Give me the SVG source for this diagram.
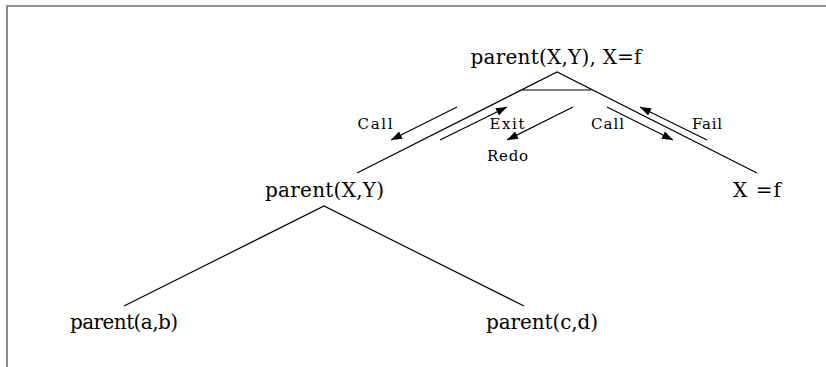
<svg xmlns="http://www.w3.org/2000/svg" width="826" height="367" viewBox="0 0 826 367">
<defs>
<style>
.big{font-family:"DejaVu Serif","Liberation Serif",serif;font-size:20px;fill:#000;text-anchor:middle}
.sm{font-family:"DejaVu Serif","Liberation Serif",serif;font-size:15px;fill:#000;text-anchor:middle}
.ln{stroke:#000;stroke-width:1.2;fill:none}
.ar{stroke:#000;stroke-width:1.2;fill:none;marker-end:url(#ah)}
</style>
<marker id="ah" markerUnits="userSpaceOnUse" markerWidth="12" markerHeight="8" refX="11" refY="4" orient="auto">
<path d="M0,0 L11,4 L0,8 z" fill="#000"/>
</marker>
</defs>
<rect width="826" height="367" fill="#fff"/>
<path d="M7,367 V6 H826" stroke="#707070" stroke-width="1.6" fill="none"/>
<g id="connectors">
<path class="ln" d="M357,173 L557,72 L757,173"/>
<path class="ln" d="M522,90 H591"/>
<path class="ln" d="M124,306 L324,206 L524,306"/>
<line class="ar" x1="457" y1="107" x2="391" y2="140"/>
<line class="ar" x1="440" y1="140" x2="507" y2="107"/>
<line class="ar" x1="573" y1="107" x2="507" y2="140"/>
<line class="ar" x1="607" y1="107" x2="673" y2="140"/>
<line class="ar" x1="707" y1="140" x2="640" y2="107"/>
</g>
<g id="labels">
<text class="sm" x="375" y="129" textLength="35">Call</text>
<text class="sm" x="507" y="129" textLength="35">Exit</text>
<text class="sm" x="507.5" y="161" textLength="41">Redo</text>
<text class="sm" x="607.5" y="129" textLength="33">Call</text>
<text class="sm" x="707" y="129" textLength="30">Fail</text>
</g>
<g id="node-root"><text class="big" x="556" y="64" textLength="171">parent(X,Y), X=f</text></g>
<g id="node-parentXY"><text class="big" x="324.5" y="197" textLength="119">parent(X,Y)</text></g>
<g id="node-xf"><text class="big" x="757" y="197" textLength="48">X =f</text></g>
<g id="node-ab"><text class="big" x="124" y="329" textLength="108">parent(a,b)</text></g>
<g id="node-cd"><text class="big" x="542" y="329" textLength="112">parent(c,d)</text></g>
</svg>
